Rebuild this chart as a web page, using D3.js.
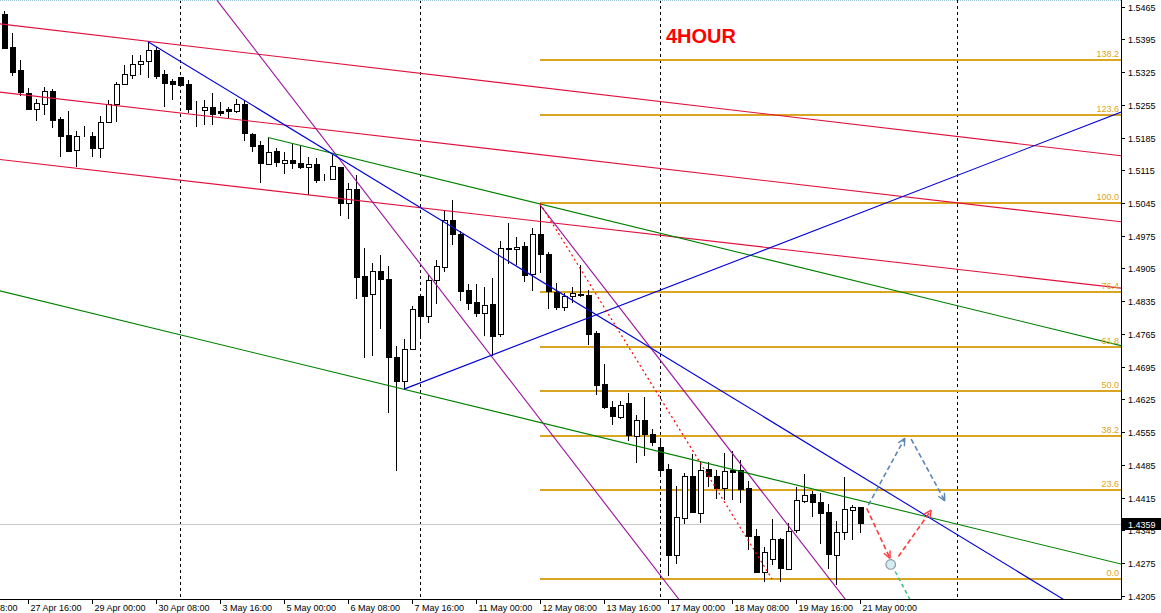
<!DOCTYPE html>
<html><head><meta charset="utf-8">
<script src="https://cdn.jsdelivr.net/npm/d3@7"></script>
<style>
html,body{margin:0;padding:0;background:#fff;}
svg{display:block;font-family:"Liberation Sans",Arial,sans-serif;}
</style></head>
<body><svg id="c" width="1161" height="613"></svg>
<script>
// ---- data (GBPUSD H4, bar index 0 = first visible bar) ----
const opens = [1.5449,1.5379,1.5329,1.5280,1.5245,1.5256,1.5284,1.5225,1.5190,1.5158,1.5189,1.5188,1.5162,1.5218,1.5257,1.5299,1.5319,1.5342,1.5348,1.5372,
1.5321,1.5305,1.5314,1.5299,1.5247,1.5243,1.5250,1.5242,1.5245,1.5241,1.5257,1.5192,1.5168,1.5130,1.5156,1.5132,1.5137,1.5131,1.5121,1.5128,
1.5096,1.5096,1.5122,1.5044,1.5075,1.4889,1.4850,1.4900,1.4882,1.4715,1.4663,1.4732,1.4846,1.4802,1.4881,1.4909,1.5009,1.4978,1.4859,1.4833,
1.4809,1.4829,1.4764,1.4949,1.4946,1.4953,1.4892,1.4978,1.4935,1.4855,1.4823,1.4845,1.4850,1.4848,1.4766,1.4658,1.4608,1.4588,1.4617,1.4548,
1.4582,1.4552,1.4523,1.4476,1.4292,1.4372,1.4461,1.4383,1.4476,1.4461,1.4436,1.4474,1.4474,1.4435,1.4333,1.4256,1.4283,1.4326,1.4262,1.4344,
1.4408,1.4423,1.4406,1.4384,1.4291,1.4341,1.4388,1.4394];
const highs = [1.5456,1.5408,1.5351,1.5290,1.5267,1.5292,1.5288,1.5228,1.5242,1.5199,1.5210,1.5197,1.5231,1.5265,1.5303,1.5340,1.5361,1.5361,1.5390,1.5379,
1.5329,1.5311,1.5315,1.5308,1.5264,1.5265,1.5280,1.5262,1.5250,1.5267,1.5265,1.5194,1.5178,1.5185,1.5162,1.5153,1.5171,1.5169,1.5144,1.5141,
1.5108,1.5148,1.5123,1.5087,1.5105,1.4949,1.4916,1.4934,1.4910,1.4739,1.4754,1.4825,1.4846,1.4892,1.4923,1.5027,1.5051,1.4985,1.4871,1.4871,
1.4865,1.4884,1.4964,1.5002,1.4973,1.4961,1.4992,1.5041,1.4940,1.4873,1.4853,1.4865,1.4912,1.4859,1.4771,1.4701,1.4622,1.4622,1.4638,1.4592,
1.4631,1.4561,1.4542,1.4487,1.4440,1.4468,1.4508,1.4494,1.4492,1.4474,1.4510,1.4515,1.4495,1.4451,1.4347,1.4309,1.4369,1.4328,1.4360,1.4438,
1.4465,1.4430,1.4424,1.4401,1.4366,1.4458,1.4399,1.4394];
const lows = [1.5374,1.5317,1.5274,1.5244,1.5221,1.5233,1.5205,1.5143,1.5153,1.5123,1.5187,1.5144,1.5141,1.5218,1.5219,1.5299,1.5311,1.5319,1.5313,1.5311,
1.5251,1.5265,1.5295,1.5237,1.5208,1.5212,1.5212,1.5230,1.5226,1.5238,1.5178,1.5155,1.5087,1.5130,1.5121,1.5106,1.5118,1.5118,1.5062,1.5087,
1.5091,1.5094,1.5018,1.5011,1.4840,1.4714,1.4718,1.4775,1.4595,1.4472,1.4645,1.4731,1.4759,1.4789,1.4830,1.4898,1.4955,1.4836,1.4816,1.4802,
1.4761,1.4718,1.4759,1.4915,1.4912,1.4877,1.4857,1.4896,1.4818,1.4816,1.4815,1.4831,1.4845,1.4741,1.4634,1.4604,1.4571,1.4583,1.4535,1.4490,
1.4505,1.4526,1.4463,1.4248,1.4274,1.4358,1.4383,1.4361,1.4438,1.4412,1.4410,1.4410,1.4403,1.4304,1.4253,1.4235,1.4271,1.4235,1.4260,1.4339,
1.4404,1.4373,1.4316,1.4262,1.4228,1.4324,1.4324,1.4339];
const closes = [1.5377,1.5326,1.5281,1.5245,1.5258,1.5284,1.5222,1.5189,1.5155,1.5188,1.5189,1.5162,1.5218,1.5256,1.5299,1.5320,1.5342,1.5349,1.5372,1.5317,
1.5302,1.5299,1.5296,1.5245,1.5247,1.5250,1.5236,1.5238,1.5241,1.5257,1.5194,1.5166,1.5130,1.5155,1.5133,1.5138,1.5131,1.5123,1.5128,1.5094,
1.5096,1.5124,1.5044,1.5074,1.4886,1.4847,1.4899,1.4883,1.4716,1.4663,1.4732,1.4818,1.4804,1.4880,1.4910,1.5009,1.4978,1.4857,1.4832,1.4810,
1.4826,1.4761,1.4948,1.4946,1.4951,1.4892,1.4978,1.4935,1.4855,1.4823,1.4847,1.4852,1.4847,1.4765,1.4654,1.4609,1.4588,1.4614,1.4549,1.4582,
1.4551,1.4534,1.4474,1.4292,1.4373,1.4461,1.4383,1.4474,1.4462,1.4436,1.4472,1.4470,1.4434,1.4333,1.4256,1.4299,1.4326,1.4264,1.4344,1.4409,
1.4421,1.4406,1.4383,1.4294,1.4341,1.4390,1.4394,1.4359];

// time axis labels (bar index, text)
const timeLabelIdx = [-5,3,11,19,27,35,43,51,59,67,75,83,91,99,107];
const timeLabels = ["26 Apr 08:00","27 Apr 16:00","29 Apr 00:00","30 Apr 08:00","3 May 16:00","5 May 00:00","6 May 08:00","7 May 16:00","11 May 00:00","12 May 08:00","13 May 16:00","17 May 00:00","18 May 08:00","19 May 16:00","21 May 00:00"];
const weekSeparators = [22, 52, 82, 119.1];
const priceTicks = [1.5465,1.5395,1.5325,1.5255,1.5185,1.5115,1.5045,1.4975,1.4905,1.4835,1.4765,1.4695,1.4625,1.4555,1.4485,1.4415,1.4345,1.4275,1.4205];

// drawn objects: [barIndex1, price1, barIndex2, price2, extendLeft]
const redChannel = [[-0.5,1.5428,139.6,1.5146,1],[-0.5,1.5282,139.6,1.5005,1],[-0.5,1.5138,139.6,1.4863,1]];
const blueLines = [[18,1.5390,97,1.45666,0],[50,1.4647,139.6,1.5239,0]];
const greenLines = [[33,1.5185,139.6,1.4740,0],[-0.5,1.4857,139.6,1.4273,1]];
const purpleLines = [[26.6,1.5479,83.46,1.42174,1],[67,1.5041,97,1.4378,0]];
const fibStart = [67, 1.5044];
const fibEnd = [96, 1.4241];
const fibRatios = [0, 23.6, 38.2, 50, 61.8, 76.4, 100, 123.6, 138.2];
const projBlue = [[108.04,1.4399,112.6,1.4542],[113.4,1.4540,117.6,1.4408]];
const projRed = [[107.84,1.4392,110.75,1.4285],[111.8,1.4289,115.9,1.4388]];
const projCircle = [110.84, 1.4272];
const projGreen = [111.4,1.4257,113.5,1.4189];
const title = "4HOUR";

// ---- layout ----
const W = 1161, H = 613, plotR = 1121, plotB = 599;
const svg = d3.select("#c");
const x = d3.scaleLinear().domain([0, 107]).range([4, 860]);
const y = d3.scaleLinear().domain([1.4205, 1.5465]).range([595.8, 6.6]);

svg.append("defs").append("clipPath").attr("id","plot")
  .append("rect").attr("x",0).attr("y",0).attr("width",plotR).attr("height",plotB);
const g = svg.append("g").attr("clip-path","url(#plot)");

// top dotted border
svg.append("line").attr("x1",0).attr("x2",plotR).attr("y1",0.5).attr("y2",0.5)
  .attr("stroke","#9cc4dc").attr("stroke-dasharray","1,1");

// week separators
g.selectAll(".sep").data(weekSeparators).join("line")
  .attr("x1",d=>Math.round(x(d))+0.5).attr("x2",d=>Math.round(x(d))+0.5)
  .attr("y1",0).attr("y2",plotB).attr("stroke","#000").attr("stroke-dasharray","3,3");

// fib levels
const fibPrice = r => fibEnd[1] + (fibStart[1]-fibEnd[1])*r/100;
g.selectAll(".fib").data(fibRatios).join("line")
  .attr("x1",x(fibStart[0])).attr("x2",plotR)
  .attr("y1",d=>Math.round(y(fibPrice(d)))).attr("y2",d=>Math.round(y(fibPrice(d))))
  .attr("stroke","#daa520").attr("stroke-width",2);

// current price line
const last = closes[closes.length-1];
g.append("line").attr("x1",0).attr("x2",plotR)
  .attr("y1",Math.round(y(last))+0.5).attr("y2",Math.round(y(last))+0.5)
  .attr("stroke","#c8c8c8");

// candles
const idx = d3.range(opens.length);
const cg = g.append("g").attr("shape-rendering","crispEdges");
idx.forEach(i=>{
  const cx = Math.round(x(i))+0.5;
  cg.append("line").attr("x1",cx).attr("x2",cx).attr("y1",y(highs[i])).attr("y2",y(lows[i])).attr("stroke","#000");
  const top = y(Math.max(opens[i],closes[i])), bot = y(Math.min(opens[i],closes[i]));
  const h = Math.max(0, bot-top);
  cg.append("rect").attr("x",cx-2.5).attr("y",Math.round(top)+0.5).attr("width",5).attr("height",Math.max(0,Math.round(h)))
    .attr("fill", closes[i] < opens[i] ? "#000" : "#fff").attr("stroke","#000");
});

// trend lines
function seg(a){
  const x1=x(a[0]), y1=y(a[1]), x2=x(a[2]), y2=y(a[3]);
  const m=(y2-y1)/(x2-x1);
  const sx = a[4] ? -10 : x1, ex = plotR+10;
  return {x1:sx, y1:y1+m*(sx-x1), x2:ex, y2:y1+m*(ex-x1)};
}
function drawLines(arr, color){
  g.selectAll(null).data(arr.map(seg)).join("line")
    .attr("x1",d=>d.x1).attr("y1",d=>d.y1).attr("x2",d=>d.x2).attr("y2",d=>d.y2)
    .attr("stroke",color).attr("stroke-width",1.1);
}
drawLines(redChannel, "#e0103c");
drawLines(purpleLines, "#9a109a");
drawLines(greenLines, "#008000");
drawLines(blueLines, "#0000d8");

// fib diagonal
g.append("line").attr("x1",x(fibStart[0])).attr("y1",y(fibStart[1])).attr("x2",x(fibEnd[0])).attr("y2",y(fibEnd[1]))
  .attr("stroke","#ff0000").attr("stroke-width",1.2).attr("stroke-dasharray","2,3");

// fib labels
g.selectAll(".fl").data(fibRatios).join("text")
  .attr("x",1119).attr("y",d=>Math.round(y(fibPrice(d)))-3)
  .attr("text-anchor","end").attr("font-size",9).attr("fill","#daa520")
  .text(d=>d.toFixed(1));

// projection arrows
function arrow(a, color){
  const x1=x(a[0]), y1=y(a[1]), x2=x(a[2]), y2=y(a[3]);
  g.append("line").attr("x1",x1).attr("y1",y1).attr("x2",x2).attr("y2",y2)
    .attr("stroke",color).attr("stroke-width",1.6).attr("stroke-dasharray","5,3");
  const ang = Math.atan2(y2-y1, x2-x1), L=8;
  [0.45,-0.45].forEach(da=>{
    g.append("line").attr("x1",x2).attr("y1",y2)
      .attr("x2",x2-L*Math.cos(ang+da)).attr("y2",y2-L*Math.sin(ang+da))
      .attr("stroke",color).attr("stroke-width",1.4);
  });
}
projBlue.forEach(a=>arrow(a,"#5a86b4"));
projRed.forEach(a=>arrow(a,"#ff3c3c"));
g.append("line").attr("x1",x(projGreen[0])).attr("y1",y(projGreen[1])).attr("x2",x(projGreen[2])).attr("y2",y(projGreen[3]))
  .attr("stroke","#3cc080").attr("stroke-width",1.5).attr("stroke-dasharray","4,3");
g.append("circle").attr("cx",x(projCircle[0])).attr("cy",y(projCircle[1])).attr("r",4.8)
  .attr("fill","#d6ecf4").attr("stroke","#8c9ca4").attr("stroke-width",1.2);

// title
svg.append("text").attr("x",666).attr("y",43).attr("font-size",20).attr("font-weight","bold")
  .attr("fill","#ff0000").text(title);

// axes
svg.append("line").attr("x1",plotR+0.5).attr("x2",plotR+0.5).attr("y1",0).attr("y2",plotB+0.5).attr("stroke","#000");
svg.append("line").attr("x1",0).attr("x2",plotR+0.5).attr("y1",plotB+0.5).attr("y2",plotB+0.5).attr("stroke","#000");
priceTicks.forEach(p=>{
  const yy = Math.round(y(p))+0.5;
  svg.append("line").attr("x1",plotR).attr("x2",plotR+4).attr("y1",yy).attr("y2",yy).attr("stroke","#000");
  svg.append("text").attr("x",1128).attr("y",yy+3.5).attr("font-size",9).attr("fill","#000").text(p.toFixed(4));
});
timeLabelIdx.forEach((t,i)=>{
  const xx = Math.round(x(t))+0.5;
  svg.append("line").attr("x1",xx).attr("x2",xx).attr("y1",plotB).attr("y2",plotB+5).attr("stroke","#000");
  svg.append("text").attr("x",xx+2).attr("y",611).attr("font-size",9).attr("fill","#000").text(timeLabels[i]);
});

// current price label
const ly = Math.round(y(last));
svg.append("rect").attr("x",1122).attr("y",ly-6).attr("width",39).attr("height",12).attr("fill","#000");
svg.append("text").attr("x",1128).attr("y",ly+3.5).attr("font-size",9).attr("fill","#fff").text(last.toFixed(4));
</script></body></html>
